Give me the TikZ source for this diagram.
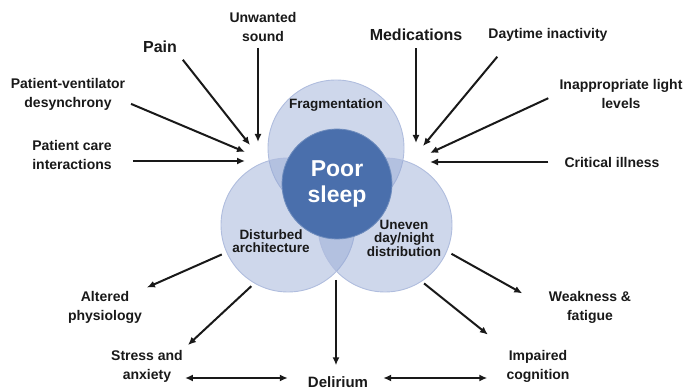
\documentclass[tikz,border=0pt]{standalone}
\usepackage{fontspec}
\setmainfont{Liberation Sans}
\usetikzlibrary{arrows.meta}

\definecolor{lobefill}{RGB}{146,166,211}
\definecolor{lobeline}{RGB}{176,189,222}
\definecolor{corefill}{RGB}{74,111,172}
\definecolor{ink}{RGB}{25,25,25}

\tikzset{
  factor/.style={align=center, inner sep=2pt, text=ink, font=\fontsize{14}{19}\selectfont\bfseries},
  bigfactor/.style={factor, font=\fontsize{16}{19}\selectfont\bfseries},
  lobe/.style={circle, inner sep=0pt, fill=lobefill, fill opacity=0.45, draw=lobeline, line width=0.9pt},
  lobetext/.style={align=center, inner sep=1pt, text=ink, font=\fontsize{13.5}{13.5}\selectfont\bfseries},
  arr/.style={-{Latex[length=8pt,width=7pt]}, line width=2pt, ink},
  both/.style={{Latex[length=8pt,width=7pt]}-{Latex[length=8pt,width=7pt]}, line width=2pt, ink},
}

\begin{document}
\begin{tikzpicture}[x=1pt,y=-1pt]
\useasboundingbox (0,0) rectangle (683,390);

% the three overlapping lobes and the core
\node[lobe, minimum size=136pt] (frag) at (336,148) {};
\node[lobe, minimum size=134pt] (arch) at (288,225) {};
\node[lobe, minimum size=134pt] (dist) at (385,225) {};
\node[circle, inner sep=0pt, minimum size=110pt, fill=corefill, draw=corefill!80!white, line width=0.8pt,
      text=white, align=center, font=\fontsize{23}{26}\selectfont\bfseries] (core) at (337,184) {Poor\\sleep};
\coordinate (meet) at (336,271);

\node[lobetext] (fragL) at (336,105) {Fragmentation};
\node[lobetext] (archL) at (271,241) {Disturbed\\architecture};
\node[lobetext] (distL) at (404,238) {Uneven\\day/night\\distribution};

% causes
\node[bigfactor] (pain) at (160,47) {Pain};
\node[factor] (sound) at (263,27) {Unwanted\\sound};
\node[factor] (vent) at (68,94) {Patient-ventilator\\desynchrony};
\node[factor] (care) at (72,155) {Patient care\\interactions};
\node[bigfactor] (meds) at (416,35) {Medications};
\node[factor] (day) at (548,35) {Daytime inactivity};
\node[factor] (light) at (621,94) {Inappropriate light\\levels};
\node[factor] (crit) at (612,162) {Critical illness};

\coordinate (in-pain) at (250,145);
\coordinate (in-sound) at (258,142);
\coordinate (in-vent) at (245,152);
\coordinate (in-care) at (245,161);
\coordinate (in-meds) at (416,143);
\coordinate (in-day) at (423,146);
\coordinate (in-light) at (430,153);
\coordinate (in-crit) at (430,162);

\draw[arr, shorten <=6pt] (pain.south east) -- (in-pain);
\draw[arr, shorten <=4pt] (sound.south -| in-sound) -- (in-sound);
\draw[arr, shorten <=4pt] (vent.-8) -- (in-vent);
\draw[arr, shorten <=19pt] (care.east |- in-care) -- (in-care);
\draw[arr, shorten <=5pt] (meds.south) -- (in-meds);
\draw[arr] ([shift={(11,13)}]day.south west) -- (in-day);
\draw[arr, shorten <=10pt] (light.west) -- (in-light);
\draw[arr, shorten <=14pt] (crit.west) -- (in-crit);

% consequences
\node[factor] (altered) at (105,307) {Altered\\physiology};
\node[factor] (stress) at (147,366) {Stress and\\anxiety};
\node[factor, font=\fontsize{15}{19}\selectfont\bfseries] (delirium) at (338,382) {Delirium};
\node[factor] (weak) at (590,307) {Weakness \&\\fatigue};
\node[factor] (impaired) at (538,366) {Impaired\\cognition};

\draw[arr, shorten <=5pt, shorten >=3pt] (arch.204) -- (altered.north east);
\draw[arr, shorten <=4pt, shorten >=4pt] (arch.240) -- (stress.north east);
\draw[arr, shorten <=9pt, shorten >=9pt] (meet) -- (meet |- delirium.north);
\draw[arr, shorten <=5pt, shorten >=28pt] (dist.-23) -- (weak.west);
\draw[arr, shorten <=3pt, shorten >=21pt] (dist.-57) -- (impaired.north west);
\draw[both, shorten >=18pt] ([yshift=4pt]delirium.west -| stress.east) -- ([yshift=4pt]delirium.west);
\draw[both, shorten <=13pt, shorten >=17pt] ([yshift=4pt]delirium.east) -- ([yshift=4pt]delirium.east -| impaired.west);
\end{tikzpicture}
\end{document}
